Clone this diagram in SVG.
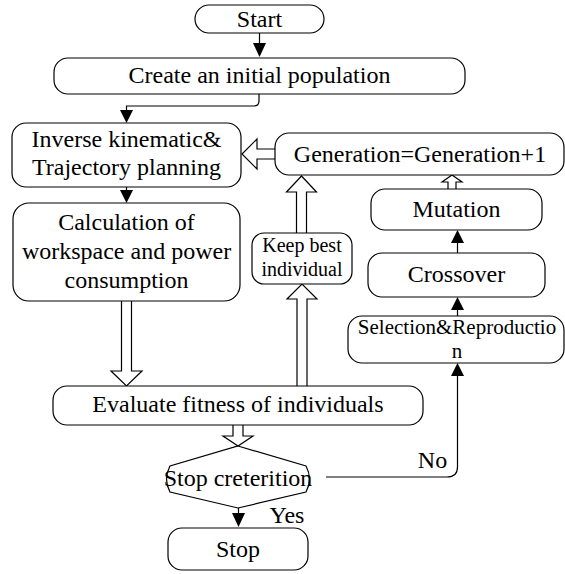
<svg xmlns="http://www.w3.org/2000/svg" width="565" height="574" viewBox="0 0 565 574">
<style>
.box{fill:#fff;stroke:#000;stroke-width:1.2}
.t{font-family:'Liberation Serif','Times New Roman','DejaVu Serif',serif;font-size:24px;fill:#000;text-anchor:middle}
.s{font-size:21px}
.k{font-size:20px}
.ln{fill:none;stroke:#000;stroke-width:1.2}
.tri{fill:#000;stroke:none}
.hol{fill:#fff;stroke:#000;stroke-width:1.2;stroke-linejoin:miter}
</style>
<rect width="565" height="574" fill="#fff"/>
<g id="connectors">
<line class="ln" x1="259.5" y1="33" x2="259.5" y2="44"/>
<polygon class="tri" points="253,43 266,43 259.5,57"/>
<path class="ln" d="M259,94 V101 Q259,106 254,106 H126.5 V110"/>
<polygon class="tri" points="120,110 133,110 126.5,123"/>
<line class="ln" x1="126.5" y1="187" x2="126.5" y2="191"/>
<polygon class="tri" points="120,190 133,190 126.5,203"/>
<path class="hol" d="M275,149 H257 V139 L242,154 L257,169 V159 H275"/>
<path class="hol" d="M448,189 V182 H442 L452,175 L462,182 H456 V189"/>
<path class="hol" d="M296.5,233 V192 H286.5 L301.5,176 L316.5,192 H306.5 V233"/>
<path class="hol" d="M297,386 V299 H287 L302,284 L317,299 H307 V386"/>
<path class="hol" d="M121.5,301 V371 H111 L126.5,386 L142,371 H131.5 V301"/>
<path class="hol" d="M233,425 V436 H223 L238,446 L253,436 H243 V425"/>
<line class="ln" x1="238.5" y1="508" x2="238.5" y2="514"/>
<polygon class="tri" points="232,513 245,513 238.5,527"/>
<path class="ln" d="M326,477 H447 Q457.5,477 457.5,467 V376"/>
<polygon class="tri" points="451,376 464,376 457.5,363"/>
<line class="ln" x1="457.5" y1="316" x2="457.5" y2="309"/>
<polygon class="tri" points="451,310 464,310 457.5,297"/>
<line class="ln" x1="457.5" y1="253" x2="457.5" y2="242"/>
<polygon class="tri" points="451,243 464,243 457.5,230"/>
</g>
<g font-family="Liberation Serif, Times New Roman, serif">
<g id="start"><rect class="box" x="195" y="5" width="129" height="28" rx="14"/><text class="t" x="259.5" y="27">Start</text></g>
<g id="create"><rect class="box" x="54" y="58" width="411" height="36" rx="14"/><text class="t" x="259.5" y="83">Create an initial population</text></g>
<g id="inverse"><rect class="box" x="12" y="123" width="229" height="64" rx="14"/><text class="t" x="126.5" y="147">Inverse kinematic&amp;</text><text class="t" x="126.5" y="175">Trajectory planning</text></g>
<g id="generation"><rect class="box" x="275" y="133" width="289" height="42" rx="14"/><text class="t" x="420" y="162">Generation=Generation+1</text></g>
<g id="mutation"><rect class="box" x="371" y="189" width="171" height="41" rx="14"/><text class="t" x="456.5" y="217">Mutation</text></g>
<g id="crossover"><rect class="box" x="368" y="253" width="177" height="44" rx="14"/><text class="t" x="456.5" y="282">Crossover</text></g>
<g id="selection"><rect class="box" x="348" y="316" width="216" height="47" rx="14"/><text class="t s" x="457" y="334">Selection&amp;Reproductio</text><text class="t s" x="457" y="358">n</text></g>
<g id="calculation"><rect class="box" x="13" y="203" width="227" height="98" rx="16"/><text class="t" x="126.5" y="230">Calculation of</text><text class="t" x="126.5" y="259">workspace and power</text><text class="t" x="126.5" y="288">consumption</text></g>
<g id="keepbest"><rect class="box" x="252" y="233" width="100" height="51" rx="12"/><text class="t k" x="302" y="252">Keep best</text><text class="t k" x="302" y="276">individual</text></g>
<g id="evaluate"><rect class="box" x="53" y="386" width="370" height="39" rx="14"/><text class="t" x="238" y="412">Evaluate fitness of individuals</text></g>
<g id="stopcrit"><path class="box" d="M238,446 L306,466 Q313,479 306,492 L238,508 L170,492 Q163,479 170,466 Z"/><text class="t" x="238" y="486">Stop creterition</text></g>
<g id="stop"><rect class="box" x="168" y="528" width="140" height="42" rx="14"/><text class="t" x="238" y="557">Stop</text></g>
<g id="labels"><text class="t" x="287" y="523">Yes</text><text class="t" x="432.5" y="468">No</text></g>
</g>
</svg>
